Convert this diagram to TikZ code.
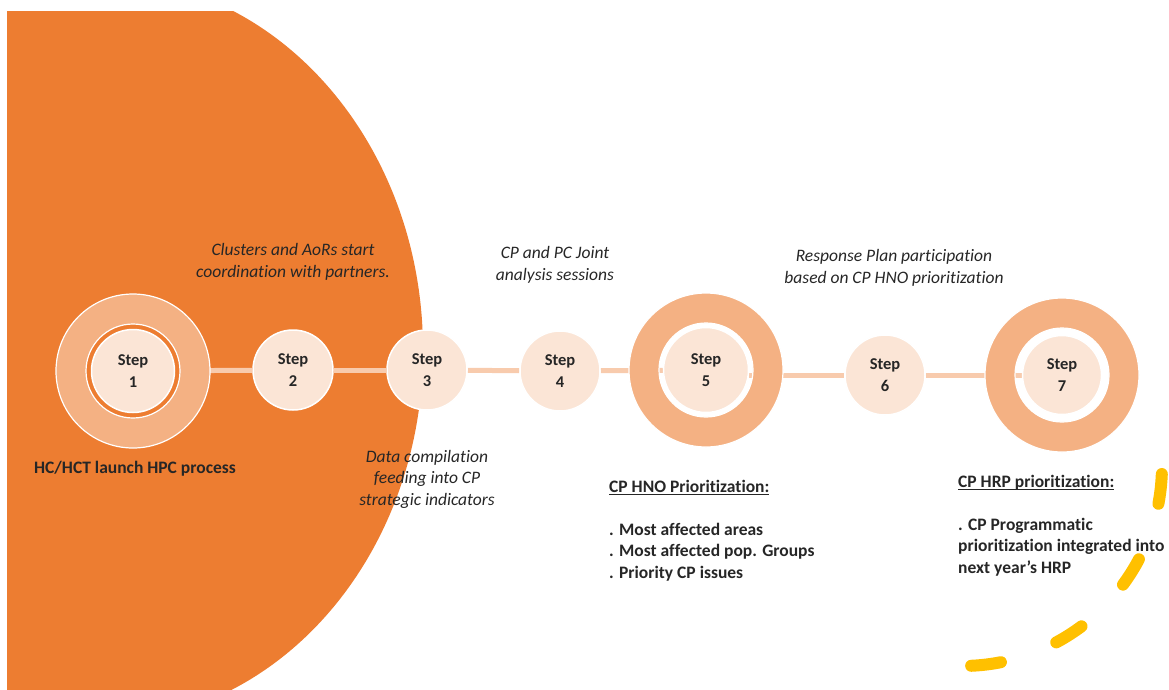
\documentclass[tikz,border=0pt]{standalone}
\usepackage{fontspec}
\setmainfont{Carlito}[Ligatures=NoCommon]
\definecolor{corange}{HTML}{ED7D31}
\definecolor{cpeach}{HTML}{F4B183}
\definecolor{clight}{HTML}{FBE5D6}
\definecolor{cline}{HTML}{F8CBAD}
\definecolor{cyellow}{HTML}{FFC000}
\definecolor{ctext}{HTML}{262626}
\pgfdeclarelayer{back}
\pgfdeclarelayer{mid}
\pgfsetlayers{back,mid,main}
\newcommand{\myul}[1]{\setbox0\hbox{#1}\rlap{\rule[-2.4pt]{\wd0}{1.3pt}}\box0}
\begin{document}
\begin{tikzpicture}[x=1pt,y=-1pt,
  stepc/.style={circle, fill=clight, draw=white, line width=1.5pt, inner sep=0pt,
    minimum size=#1, align=center, text=ctext,
    font=\bfseries\fontsize{16.5}{22.5}\selectfont},
  stepc/.default=80,
  ringc/.style={circle, draw=cpeach, line width=30pt, inner sep=0pt, minimum size=124},
  ringedge/.style={draw=white, line width=1.2pt},
  conn/.style={draw=cline, line width=5pt},
  itext/.style={align=center, inner sep=0pt, text=ctext,
    font=\itshape\fontsize{17.5}{21.5}\selectfont},
  btext/.style={align=left, inner sep=0pt, text=ctext,
    font=\bfseries\fontsize{17.5}{21.5}\selectfont},
  yarc/.style={draw=cyellow, line width=12pt, line cap=round,
    dash pattern=on 30pt off 59pt}]
\useasboundingbox (0,0) rectangle (1169,689);
% big orange background shape
\begin{pgfonlayer}{back}
  \begin{scope}
    \clip (7,11) rectangle (1169,689);
    \fill[corange] (100,350) ellipse [x radius=323, y radius=372];
  \end{scope}
\end{pgfonlayer}
% rings
\begin{pgfonlayer}{mid}
  \node[ringc] (r1) at (133,371) {};
  \node[ringc] (r5) at (706,370) {};
  \node[ringc] (r7) at (1062,375) {};
  \foreach \r in {r1,r5,r7}{
    \draw[ringedge] (\r) circle [radius=77];
    \draw[ringedge] (\r) circle [radius=47];
  }
\end{pgfonlayer}
% steps
\node[stepc=83] (s1) at (133,371) {Step\\1};
\node[stepc] (s2) at (293,370) {Step\\2};
\node[stepc] (s3) at (427,370) {Step\\3};
\node[stepc] (s4) at (560,371) {Step\\4};
\node[stepc=85] (s5) at (706,370) {Step\\5};
\node[stepc] (s6) at (885,375) {Step\\6};
\node[stepc=79] (s7) at (1062,375) {Step\\7};
% connectors
\begin{pgfonlayer}{back}
  \draw[conn] (r1) -- (s2);
  \draw[conn] (s2) -- (s3);
  \draw[conn] (s3) -- (s4);
  \draw[conn] (s4) -- (s5);
  \draw[conn] (s5.east |- s6) -- (s6);
  \draw[conn] (s6) -- (s7);
\end{pgfonlayer}
% labels
\node[itext] (l2) at (293,262) {Clusters and AoRs start\\coordination with partners.};
\node[itext] (l4) at (555,265) {CP and PC Joint\\analysis sessions};
\node[itext] (l6) at (894,268) {Response Plan participation\\based on CP HNO prioritization};
\node[itext] (l3) at (427,479) {Data compilation\\feeding into CP\\strategic indicators};
\node[btext] (l1) at (135,469) {HC/HCT launch HPC process};
\node[btext, anchor=north west] (l5) at (609,480)
  {\myul{CP HNO Prioritization:}\\[21.5pt]. Most affected areas\\. Most affected pop. Groups\\. Priority CP issues};
\node[btext, anchor=north west] (l7) at (958,475)
  {\myul{CP HRP prioritization:}\\[21.5pt]. CP Programmatic\\prioritization integrated into\\next year’s HRP};
% yellow dashed arc
\draw[yarc] (1161.8,474) arc [start angle=2.3, end angle=90, radius=200];
\end{tikzpicture}
\end{document}
